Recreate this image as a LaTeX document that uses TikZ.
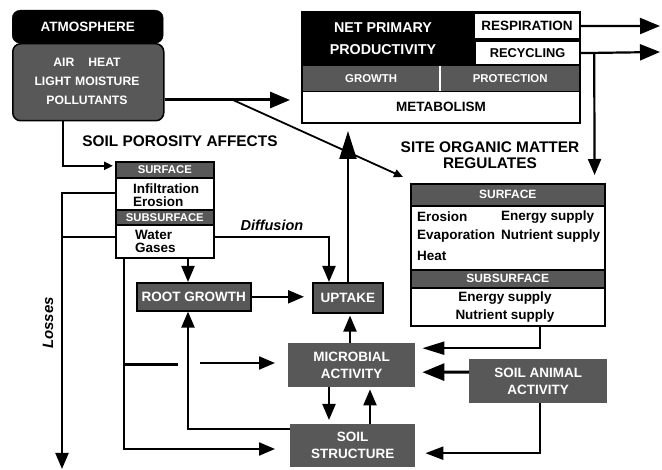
\documentclass[tikz,border=0pt]{standalone}
\usepackage{fontspec}
\setmainfont{Liberation Sans}
\usetikzlibrary{arrows.meta,calc}
\definecolor{dg}{RGB}{88,88,88}
\begin{document}
\begin{tikzpicture}[x=1pt,y=-1pt,
  f135/.style={font=\bfseries\fontsize{13.5}{16}\selectfont},
  box/.style={rectangle,inner sep=0pt,anchor=north west,align=center,f135},
  wbox/.style={box,draw=black,line width=1.6pt,fill=white,text=black},
  gbox/.style={box,draw=black,line width=1.6pt,fill=dg,text=white},
  hbox/.style={box,draw=black,line width=1.6pt,fill=dg,text=white,font=\bfseries\fontsize{11.3}{13}\selectfont},
  nbox/.style={box,fill=dg,text=white},
  txt/.style={inner sep=0pt,align=left,f135},
  head/.style={inner sep=0pt,align=center,font=\bfseries\fontsize{15.4}{16.5}\selectfont},
  conn/.style={line width=2.2pt},
  Abig/.style={-{Triangle[length=20pt,width=16pt]}},
  Aup/.style={-{Triangle[length=28pt,width=17pt]}},
  Amed/.style={-{Triangle[length=16pt,width=13pt]}},
  Awide/.style={-{Triangle[length=22pt,width=17pt]}},
  Asmall/.style={-{Triangle[length=9pt,width=8pt]}}
]
\useasboundingbox (0,0) rectangle (662,470);

% ---------- Atmosphere ----------
\node[box,draw=black,line width=1.5pt,fill=dg,rounded corners=8pt,minimum width=151pt,minimum height=77pt] (atmbody) at (12,43) {};
\node[box,draw=black,fill=black,rounded corners=8pt,minimum width=151pt,minimum height=33pt,text=white] (atmhead) at (12,10) {ATMOSPHERE};
\node[inner sep=0pt,align=center,text=white,font=\bfseries\fontsize{12.2}{19}\selectfont] (atmtxt) at (87,81)
  {AIR\hspace{14pt}HEAT\\LIGHT\hspace{4pt}MOISTURE\\POLLUTANTS};

% ---------- Net primary productivity ----------
\node[box,fill=black,minimum width=278pt,minimum height=53pt] (nppblack) at (302,12) {};
\node[inner sep=0pt,align=center,text=white,font=\bfseries\fontsize{14.3}{22}\selectfont] (npptxt) at (383,39) {NET PRIMARY\\PRODUCTIVITY};
\node[wbox,line width=1.2pt,minimum width=105pt,minimum height=25pt] (resp) at (474,13) {RESPIRATION};
\node[wbox,line width=1.2pt,minimum width=104pt,minimum height=23pt,font=\bfseries\fontsize{12.8}{15}\selectfont] (recyc) at (475,41) {RECYCLING};
\node[nbox,minimum width=138pt,minimum height=26pt,font=\bfseries\fontsize{11.4}{13}\selectfont] (growth) at (302,65) {GROWTH};
\node[nbox,minimum width=140pt,minimum height=26pt,font=\bfseries\fontsize{11.4}{13}\selectfont] (protect) at (440,65) {PROTECTION};
\draw[white,line width=2pt] (growth.north east) -- (growth.south east);
\node[wbox,line width=0pt,draw=none,minimum width=278pt,minimum height=32pt] (metab) at (302,91) {METABOLISM};
\draw[line width=1.5pt] (growth.north west) -- (protect.north east);
\draw[line width=1.5pt] (growth.south west) -- (protect.south east);
\draw[line width=1.8pt] (nppblack.north west) rectangle (metab.south east);

% ---------- Soil porosity ----------
\node[head] (porolbl) at (180,141) {SOIL POROSITY AFFECTS};
\node[hbox,minimum width=98pt,minimum height=16pt] (surfhead) at (115,161) {SURFACE};
\node[wbox,minimum width=98pt,minimum height=32pt] (surfbody) at (115,177) {};
\node[hbox,minimum width=98pt,minimum height=15pt] (subhead) at (115,209) {SUBSURFACE};
\node[wbox,minimum width=98pt,minimum height=33pt] (subbody) at (115,224) {};
\node[txt,anchor=west] (infil) at (133,189) {Infiltration};
\node[txt,anchor=west] (eros1) at (133,202) {Erosion};
\node[txt,anchor=west] (water) at (135,235) {Water};
\node[txt,anchor=west] (gases) at (135,248) {Gases};

% ---------- Site organic matter ----------
\node[head] (somlbl) at (490,155) {SITE ORGANIC MATTER\\REGULATES};
\node[hbox,minimum width=194pt,minimum height=22pt,font=\bfseries\fontsize{12}{14}\selectfont] (shead) at (410,183) {SURFACE};
\node[wbox,minimum width=194pt,minimum height=64pt] (sbody) at (410,205) {};
\node[hbox,minimum width=194pt,minimum height=18pt,font=\bfseries\fontsize{12}{14}\selectfont] (ssubhead) at (410,269) {SUBSURFACE};
\node[wbox,minimum width=194pt,minimum height=38pt] (ssubbody) at (410,287) {};
\node[txt,anchor=west] (s1) at (417,217) {Erosion};
\node[txt,anchor=west] (s2) at (417,236) {Evaporation};
\node[txt,anchor=west] (s3) at (417,256) {Heat};
\node[txt,anchor=west] (s4) at (501,217) {Energy supply};
\node[txt,anchor=west] (s5) at (501,236) {Nutrient supply};
\node[inner sep=0pt,align=center,font=\bfseries\fontsize{13.5}{17.5}\selectfont] (s6) at (505,307) {Energy supply\\Nutrient supply};

% ---------- Process boxes ----------
\node[gbox,minimum width=114pt,minimum height=28pt] (root) at (136,282) {ROOT GROWTH};
\node[gbox,minimum width=70pt,minimum height=30pt] (uptake) at (312,282) {UPTAKE};
\node[nbox,minimum width=127pt,minimum height=44pt,font=\bfseries\fontsize{13.5}{17}\selectfont] (micro) at (288,343) {MICROBIAL\\ACTIVITY};
\node[nbox,minimum width=125pt,minimum height=43pt,font=\bfseries\fontsize{13.5}{17}\selectfont] (soil) at (290,424) {SOIL\\STRUCTURE};
\node[nbox,minimum width=138pt,minimum height=44pt,font=\bfseries\fontsize{13.5}{17}\selectfont] (animal) at (469,359) {SOIL ANIMAL\\ACTIVITY};

% ---------- Labels ----------
\node[inner sep=0pt,font=\bfseries\itshape\fontsize{14.5}{16}\selectfont] (difflbl) at (272,225) {Diffusion};
\node[inner sep=0pt,rotate=90,font=\bfseries\itshape\fontsize{15}{16}\selectfont] (losslbl) at (48,323) {Losses};

% ---------- Free ends ----------
\coordinate (respout) at (660,26);
\coordinate (recycout) at (660,52);
\coordinate (lossend) at (62,469);
\coordinate (dstart) at (233,100);
\coordinate (bstart) at (200,363);

% ---------- Connectors ----------
\draw[conn,line width=3pt,Abig,shorten >=12pt] (atmbody.east |- 0,100) -- (metab.west |- 0,100);
\draw[conn,line width=1.8pt,Asmall] (dstart) -- ($(shead.north west)+(-7,-6)$);
\draw[conn,Abig] (resp.east) -- (respout);
\draw[conn,Abig] (recyc.east) -- (recycout);
\draw[conn,Amed] ($(recyc.east)+(14,0)$) -- ($(shead.north east)+(-11,-8)$);
\draw[conn,Asmall] ($(atmbody.south west)+(51,0)$) |- ($(surfhead.west)+(-2,-4)$);
\draw[conn,line width=2pt,Amed] (surfbody.west |- 0,193) -| (lossend);
\draw[conn,line width=2pt] (subbody.west |- 0,237) -- (lossend |- 0,237);
\draw[conn,Amed] ($(subbody.south west)+(9,0)$) |- ($(soil.west |- 0,449)+(-15,0)$);
\draw[conn] ($(subbody.south west)+(9,0)$) |- ++(54,106);
\draw[conn,Amed] (bstart) -- ($(micro.west |- 0,363)+(-13,0)$);
\draw[conn,Amed] ($(subbody.south west)+(73,0)$) -- ($(root.north west)+(52,0)$);
\draw[conn,Amed] (soil.west |- 0,429) -| ($(root.south west)+(52,0)$);
\draw[conn,Amed] (root.east) -- ($(uptake.west |- root.east)+(-8,0)$);
\draw[conn,Amed] (subbody.east |- 0,237) -| ($(uptake.north west)+(17,0)$);
\draw[conn,Aup] ($(uptake.north west)+(36,0)$) -- ($(metab.south west)+(46,8)$);
\draw[conn,Amed] ($(micro.north west)+(62,0)$) -- ($(uptake.south west)+(38,2)$);
\draw[conn,Amed] ($(micro.south west)+(41,0)$) -- ($(soil.north west)+(39,-4)$);
\draw[conn,Amed] ($(soil.north west)+(80,0)$) -- ($(micro.south west)+(82,2)$);
\draw[conn,-{Triangle[length=22pt,width=13pt]}] ($(ssubbody.south west)+(130,0)$) |- ($(micro.east)+(7,-17)$);
\draw[conn,line width=3pt,Awide] (animal.west |- 0,372) -- ($(micro.east)+(7,7)$);
\draw[conn,-{Triangle[length=18pt,width=13pt]}] ($(animal.south west)+(71,0)$) |- ($(soil.east)+(10,7.5)$);
\end{tikzpicture}
\end{document}
